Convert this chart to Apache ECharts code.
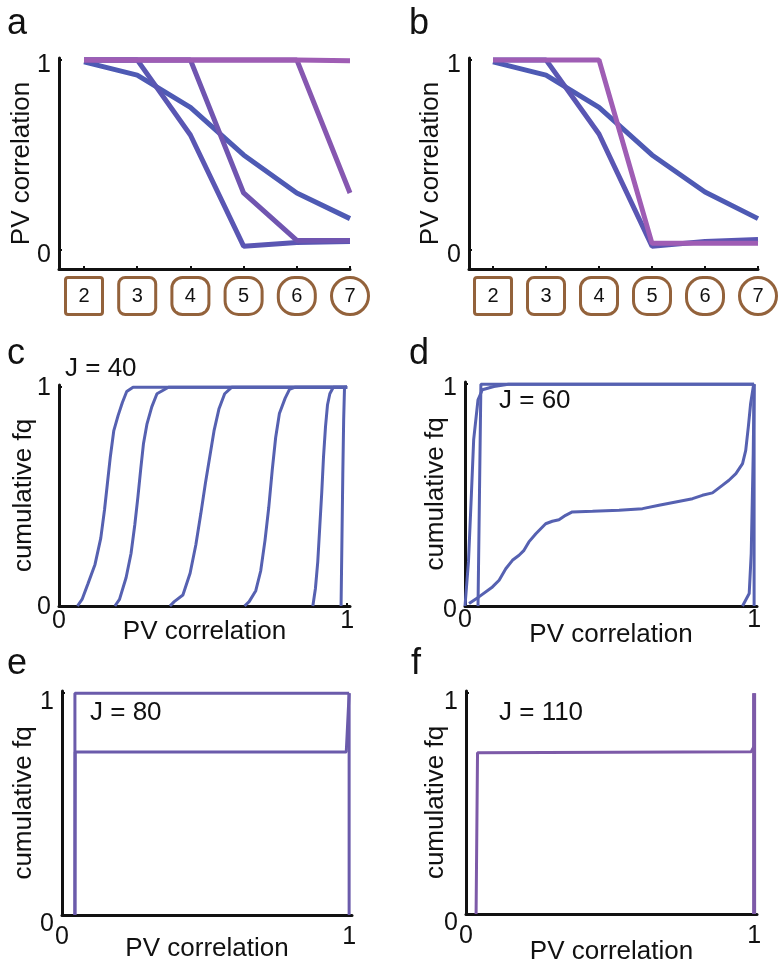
<!DOCTYPE html>
<html>
<head>
<meta charset="utf-8">
<script src="https://cdn.jsdelivr.net/npm/echarts@6/dist/echarts.min.js"></script>
<style>
  html, body { margin: 0; padding: 0; background: #fff; }
  #chart { width: 784px; height: 966px; }
</style>
</head>
<body>
<div id="chart"></div>
<script>
// ---------- data ----------
const shapeTicks = [2, 3, 4, 5, 6, 7];
const unitTicks = [0, 1];

// panel a
const aBlue1   = [0.99, 0.92, 0.75, 0.50, 0.30, 0.165];
const aBlue2   = [1.00, 1.00, 0.605, 0.02, 0.04, 0.045];
const aPurple3 = [1.00, 1.00, 1.00, 0.30, 0.05, 0.05];
const aPurple4 = [1.00, 1.00, 1.00, 1.00, 1.00, 0.30];
const aMagenta = [1.00, 1.00, 1.00, 1.00, 1.00, 0.995];

// panel b
const bBlue1   = [0.99, 0.92, 0.75, 0.50, 0.305, 0.165];
const bBlue2   = [1.00, 1.00, 0.61, 0.02, 0.045, 0.055];
const bMagenta = [1.00, 1.00, 1.00, 0.035, 0.035, 0.035];

// panel c (J = 40) cumulative curves [PV correlation, cumulative fq]
const cCurve1 = [[0.064,0],[0.08,0.03],[0.10,0.10],[0.125,0.19],[0.145,0.31],[0.158,0.44],[0.168,0.56],[0.178,0.68],[0.19,0.80],[0.205,0.87],[0.22,0.93],[0.235,0.98],[0.257,1],[1,1]];
const cCurve2 = [[0.194,0],[0.21,0.03],[0.233,0.13],[0.25,0.24],[0.263,0.37],[0.274,0.50],[0.284,0.63],[0.293,0.74],[0.305,0.83],[0.322,0.91],[0.34,0.97],[0.38,1],[1,1]];
const cCurve3 = [[0.385,0],[0.40,0.02],[0.43,0.05],[0.455,0.15],[0.475,0.28],[0.492,0.42],[0.508,0.56],[0.523,0.68],[0.538,0.80],[0.555,0.90],[0.575,0.97],[0.60,1],[1,1]];
const cCurve4 = [[0.644,0],[0.66,0.02],[0.683,0.07],[0.70,0.16],[0.715,0.30],[0.728,0.45],[0.74,0.62],[0.752,0.77],[0.765,0.88],[0.785,0.95],[0.80,0.99],[0.82,1],[1,1]];
const cCurve5 = [[0.881,0],[0.89,0.08],[0.898,0.20],[0.905,0.36],[0.912,0.52],[0.918,0.68],[0.925,0.82],[0.932,0.92],[0.94,0.97],[0.952,1],[1,1]];
const cCurve6 = [[0.979,0],[0.982,0.30],[0.985,0.60],[0.988,0.85],[0.991,1],[1,1]];

// panel d (J = 60)
const dCurveA = [[0,0],[0.012,0.20],[0.022,0.50],[0.03,0.75],[0.045,0.93],[0.06,0.975],[0.10,0.99],[0.15,1],[1,1]];
const dCurveB = [[0.045,0],[0.05,0.50],[0.055,1],[1,1]];
const dCurveC = [[0.014,0.011],[0.048,0.041],[0.095,0.086],[0.118,0.116],[0.141,0.168],[0.164,0.206],[0.187,0.229],[0.204,0.251],[0.221,0.289],[0.245,0.326],[0.279,0.371],[0.302,0.382],[0.325,0.389],[0.348,0.409],[0.371,0.424],[0.441,0.427],[0.533,0.432],[0.614,0.439],[0.671,0.454],[0.729,0.469],[0.787,0.484],[0.821,0.499],[0.856,0.510],[0.89,0.544],[0.913,0.567],[0.937,0.597],[0.96,0.642],[0.971,0.702],[0.98,0.808],[0.988,0.913],[0.997,0.988],[1,1]];
const dCurveD = [[0.96,0],[0.983,0.056],[0.99,0.236],[0.997,0.69],[1,1]];
const dCurveE = [[1,0],[1,1]];

// panel e (J = 80)
const eCurve1 = [[0.045,0],[0.045,1],[1,1]];
const eCurve2 = [[0.045,0],[0.046,0.735],[0.99,0.735],[1,1]];
const eCurve3 = [[1,0],[1,1]];

// panel f (J = 110)
const fCurve1 = [[0.035,0],[0.04,0.73],[0.99,0.735],[1,0.76],[1,1]];
const fCurve2 = [[1,0],[1,1]];

// ---------- styling helpers ----------
const FONT = 'Liberation Sans, Arial, sans-serif';
const BROWN = '#93623b';
const radii = {2: 1, 3: 5, 4: 9, 5: 12, 6: 15, 7: 19};
const rich = {};
shapeTicks.forEach(v => {
  rich['s' + v] = {
    width: 34, height: 34, lineHeight: 34, align: 'center', verticalAlign: 'middle',
    borderColor: BROWN, borderWidth: 3, borderRadius: radii[v],
    backgroundColor: '#fff', fontSize: 20, color: '#111', fontFamily: FONT
  };
});

const grids = [
  {left: 59,  top: 58,  width: 291, height: 211},
  {left: 469, top: 58,  width: 289, height: 211},
  {left: 59,  top: 385, width: 291, height: 221},
  {left: 465, top: 382, width: 292, height: 224},
  {left: 62,  top: 691, width: 290, height: 224},
  {left: 466, top: 691, width: 291, height: 224}
];

const axisLine = {show: true, onZero: false, lineStyle: {color: '#111', width: 3}};
const tick = vals => ({show: true, inside: true, length: 3, customValues: vals, lineStyle: {color: '#111', width: 2}});
const nameStyle = {fontSize: 26, color: '#111', fontFamily: FONT};

function shapeX(idx, min) {
  return {
    type: 'value', gridIndex: idx, min: min, max: 7,
    axisLine: axisLine, splitLine: {show: false},
    axisTick: tick(shapeTicks),
    axisLabel: {customValues: shapeTicks, margin: 10, rich: rich,
      formatter: v => '{s' + v + '|' + v + '}'}
  };
}
function unitX(idx, gap, margin) {
  return {
    type: 'value', gridIndex: idx, min: 0, max: 1.01,
    name: 'PV correlation', nameLocation: 'middle', nameGap: gap, nameTextStyle: nameStyle,
    nameMoveOverlap: false,
    axisLine: axisLine, splitLine: {show: false},
    axisTick: tick(unitTicks),
    axisLabel: {customValues: unitTicks, margin: margin, fontSize: 25, color: '#111', fontFamily: FONT}
  };
}
function yAx(idx, name, gap, min, off) {
  return {
    type: 'value', gridIndex: idx, min: min, max: 1.01,
    name: name, nameLocation: 'middle', nameGap: gap, nameTextStyle: nameStyle,
    nameMoveOverlap: false,
    axisLine: axisLine, splitLine: {show: false},
    axisTick: tick(unitTicks),
    axisLabel: {customValues: unitTicks, margin: 8, color: '#111', fontFamily: FONT,
      formatter: v => '{t|' + v + '}',
      rich: {t: {fontSize: 25, color: '#111', fontFamily: FONT, padding: [2 * off, 0, 0, 0]}}}
  };
}

const pairs = ys => shapeTicks.map((x, i) => [x, ys[i]]);
function line(idx, data, color, width) {
  return {type: 'line', xAxisIndex: idx, yAxisIndex: idx, data: data, showSymbol: false,
    symbol: 'none', lineStyle: {color: color, width: width}, z: 1, silent: true};
}

const BLUE = '#4e5ab4', BLUE2 = '#5a56b3', PUR3 = '#7055b0', PUR4 = '#8657b0', MAG = '#9f5db4';
const CBLUE = '#5661b1', EPUR = '#6b5bab', FPUR = '#7d5aa8';

const option = {
  animation: false,
  backgroundColor: '#fff',
  textStyle: {fontFamily: FONT},
  grid: grids,
  xAxis: [shapeX(0, 1.53), shapeX(1, 1.547), unitX(2, 13, 3), unitX(3, 16, 2), unitX(4, 21, 10), unitX(5, 25, 10)],
  yAxis: [
    yAx(0, 'PV correlation', 24, -0.1, 5),
    yAx(1, 'PV correlation', 25, -0.1, 5),
    yAx(2, 'cumulative fq', 22, 0, 1),
    yAx(3, 'cumulative fq', 16, 0, 4),
    yAx(4, 'cumulative fq', 25, 0, 9),
    yAx(5, 'cumulative fq', 17, 0, 9)
  ],
  series: [
    line(0, pairs(aBlue1), BLUE, 5),
    line(0, pairs(aBlue2), BLUE2, 5),
    line(0, pairs(aPurple3), PUR3, 5),
    line(0, pairs(aPurple4), PUR4, 5),
    line(0, pairs(aMagenta), MAG, 5),
    line(1, pairs(bBlue1), BLUE, 5),
    line(1, pairs(bBlue2), BLUE2, 5),
    line(1, pairs(bMagenta), MAG, 5),
    line(2, cCurve1, CBLUE, 3),
    line(2, cCurve2, CBLUE, 3),
    line(2, cCurve3, CBLUE, 3),
    line(2, cCurve4, CBLUE, 3),
    line(2, cCurve5, CBLUE, 3),
    line(2, cCurve6, CBLUE, 3),
    line(3, dCurveA, CBLUE, 3),
    line(3, dCurveB, CBLUE, 3),
    line(3, dCurveC, CBLUE, 3),
    line(3, dCurveD, CBLUE, 3),
    line(3, dCurveE, CBLUE, 3),
    line(4, eCurve1, EPUR, 3),
    line(4, eCurve2, EPUR, 3),
    line(4, eCurve3, EPUR, 3),
    line(5, fCurve1, FPUR, 3),
    line(5, fCurve2, FPUR, 4)
  ],
  graphic: [
    ['a', 17, 24], ['b', 419, 24], ['c', 16, 354], ['d', 419, 354], ['e', 17, 664], ['f', 416, 664]
  ].map(([t, x, y]) => ({type: 'text', x: x, y: y, style: {text: t, fontSize: 36, fill: '#111',
      fontFamily: FONT, align: 'center', verticalAlign: 'middle'}}))
    .concat([
      ['J = 40', 65, 369], ['J = 60', 499, 401], ['J = 80', 90, 713], ['J = 110', 499, 713]
    ].map(([t, x, y]) => ({type: 'text', x: x, y: y, style: {text: t, fontSize: 26, fill: '#111',
      fontFamily: FONT, align: 'left', verticalAlign: 'middle'}})))
};

const chart = echarts.init(document.getElementById('chart'), null, {renderer: 'canvas'});
chart.setOption(option);
</script>
</body>
</html>
